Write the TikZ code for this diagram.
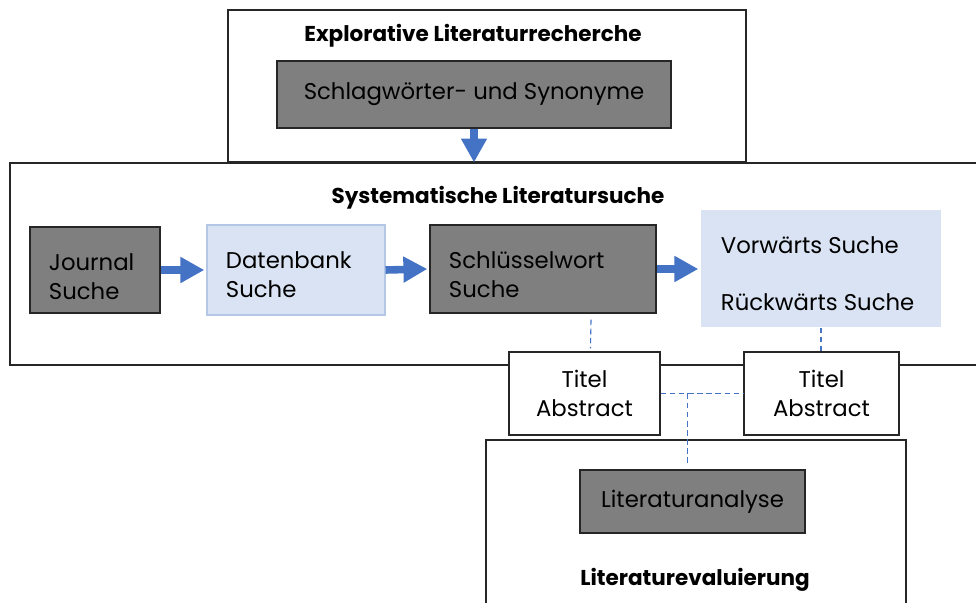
\documentclass[tikz,border=0pt]{standalone}
\usepackage{fontspec}
\setmainfont{Poppins}
\usetikzlibrary{calc,arrows.meta}

\definecolor{darkfill}{HTML}{7F7F7F}
\definecolor{lightfill}{HTML}{DAE3F3}
\definecolor{lightline}{HTML}{B4C7E7}
\definecolor{flowblue}{HTML}{4472C4}

\tikzset{
  wh/.style 2 args={minimum width=#1*0.025cm, minimum height=#2*0.025cm},
  frame/.style={draw=black!85, line width=0.8pt, fill=white, inner sep=0pt},
  darkbox/.style={draw=black!85, line width=0.8pt, fill=darkfill, inner sep=0pt},
  lightbox/.style={draw=lightline, line width=0.8pt, fill=lightfill, inner sep=0pt},
  whitebox/.style={draw=black!85, line width=0.8pt, fill=white, inner sep=0pt, align=center},
  heading/.style={font=\fontsize{15.3}{18}\selectfont\bfseries},
  txt/.style={font=\fontsize{16.2}{20.5}\selectfont, align=left},
  flow/.style={-{Triangle[length=17pt,width=17.5pt]}, line width=5.4pt, flowblue},
  link/.style={draw=flowblue, dash pattern=on 4pt off 2.5pt, line width=0.8pt}
}

\begin{document}
\begin{tikzpicture}[x=0.025cm, y=-0.025cm]  % one unit = one pixel, y grows downward
    \useasboundingbox (0,0) rectangle (976,603);

    % Explorative Literaturrecherche
    \node[frame, wh={518}{152}] (explo) at (487,86) {};
    \node[heading] (explotitle) at (473,36) {Explorative Literaturrecherche};
    \node[darkbox, wh={394}{67}, txt] (schlag) at (474,94.5) {Schlagwörter- und Synonyme};

    % Systematische Literatursuche
    \node[frame, wh={990}{202}] (sys) at (505,264) {};
    \draw[flow] (schlag.south) -- (schlag.south |- sys.north);
    \node[heading] (systitle) at (498,198) {Systematische Literatursuche};

    \node[darkbox, wh={130}{86}] (journal) at (95,270) {};
    \node[txt, anchor=west] (journaltext) at (44,277) {Journal\\Suche};
    \node[lightbox, wh={178}{90}] (datenbank) at (296,270) {};
    \node[txt, anchor=west] (datenbanktext) at (221,275) {Datenbank\\Suche};
    \node[darkbox, wh={226}{88}] (schluessel) at (543,269) {};
    \node[txt, anchor=west] (schluesseltext) at (444,275) {Schlüsselwort\\Suche};
    \node[lightbox, draw=none, wh={240}{117}] (vorw) at (821,268.5) {};
    \node[txt, anchor=west] (vorwtext) at (716,245) {Vorwärts Suche};
    \node[txt, anchor=west] (rueckwtext) at (716,302) {Rückwärts Suche};

    \draw[flow] (journal.east) -- ([xshift=-1.5]datenbank.west);
    \draw[flow] (datenbank.east) -- ([xshift=-1.5]schluessel.west);
    \draw[flow] (schluessel.east) -- ([xshift=-1.5]schluessel.east -| vorw.west);

    % Titel / Abstract
    \node[whitebox, wh={151}{83}, txt, align=center] (titelA) at (584.5,393.5) {Titel\\Abstract};
    \node[whitebox, wh={155}{83}, txt, align=center] (titelB) at (821.5,393.5) {Titel\\Abstract};

    % Literaturevaluierung
    \node[frame, wh={420}{190}] (eval) at (696,535) {};
    \node[darkbox, wh={225}{63}, txt] (analyse) at (692.5,501.5) {Literaturanalyse};
    \node[heading] (evaltitle) at (695,580) {Literaturevaluierung};

    % dashed links
    \coordinate (join) at ($(titelA.east)!0.32!(titelB.west)$);
    \draw[link] ($(schluessel.south)+(48,6)$) -- ($(titelA.north)+(6,-3)$);
    \draw[link] (vorw.south) -- (vorw.south |- titelB.north);
    \draw[link] (titelA.east) -- (titelB.west);
    \draw[link] (join) -- ($(join |- analyse.north)+(0,-6)$);
\end{tikzpicture}
\end{document}
